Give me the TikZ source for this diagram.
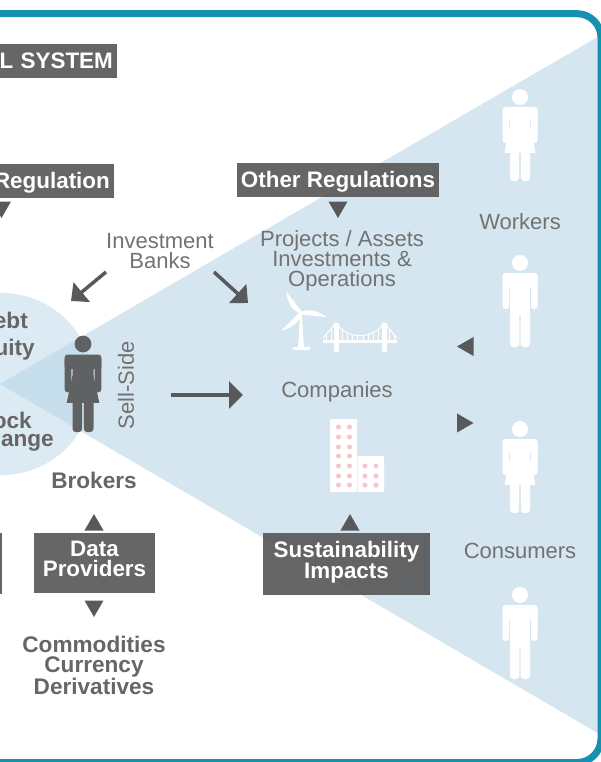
\documentclass[tikz,border=0pt]{standalone}
\usepackage{fontspec}
\setmainfont{Liberation Sans}
\usetikzlibrary{arrows.meta,shapes.geometric}
\definecolor{frameteal}{HTML}{1490B0}
\definecolor{conelight}{HTML}{D6E6F1}
\definecolor{circlelight}{HTML}{DCEAF3}
\definecolor{overlapblue}{HTML}{C7DFEC}
\definecolor{boxgrey}{HTML}{555555}
\definecolor{textgrey}{HTML}{666666}
\definecolor{thingrey}{HTML}{727272}
\definecolor{arrowgrey}{HTML}{58595B}
\definecolor{personcolor}{HTML}{5F6163}
\definecolor{windowpink}{HTML}{F5C6CB}
\newcommand{\boxlift}{\rule[-9pt]{0pt}{0pt}}
\tikzset{
  labelbox/.style={fill=boxgrey,fill opacity=.9,text opacity=1,text=white,inner xsep=4pt,inner ysep=0pt,
    font=\fontsize{22.4}{20}\selectfont\bfseries,align=center},
  thintext/.style={text=thingrey,inner sep=0pt,font=\fontsize{22}{20}\selectfont,align=center},
  boldtext/.style={text=textgrey,inner sep=0pt,font=\fontsize{22.6}{20}\selectfont\bfseries,align=center},
  marker/.style={regular polygon,regular polygon sides=3,minimum size=22pt,inner sep=0pt,fill=arrowgrey},
  bigarrow/.style={draw=arrowgrey,line width=4pt,-{Triangle[length=14pt,width=27pt]}},
  slantarrow/.style={draw=arrowgrey,line width=3.5pt,-{Triangle[length=14pt,width=25pt]}},
  pics/woman/.style={code={
    \fill[#1] (0,0) circle (8);
    \fill[#1,rounded corners=3pt] (-17.5,10) rectangle (17.5,24);
    \fill[#1,rounded corners=3pt] (-17.5,12) rectangle (-11,46);
    \fill[#1,rounded corners=3pt] (11,12) rectangle (17.5,46);
    \fill[#1] (-10,12) -- (10,12) -- (10,30) -- (15.5,56) -- (-15.5,56) -- (-10,30) -- cycle;
    \fill[#1,rounded corners=3.5pt] (-10,50) rectangle (-0.8,84);
    \fill[#1,rounded corners=3.5pt] (0.8,50) rectangle (10,84);
  }},
  pics/man/.style={code={
    \fill[#1] (0,0) circle (8);
    \fill[#1,rounded corners=3pt] (-17.5,10) rectangle (17.5,24);
    \fill[#1,rounded corners=3pt] (-17.5,12) rectangle (-11,46);
    \fill[#1,rounded corners=3pt] (11,12) rectangle (17.5,46);
    \fill[#1] (-10,12) rectangle (10,52);
    \fill[#1,rounded corners=3.5pt] (-10,45) rectangle (-0.6,84);
    \fill[#1,rounded corners=3.5pt] (0.6,45) rectangle (10,84);
  }}
}
\begin{document}
\begin{tikzpicture}[x=1pt,y=-1pt]
  \useasboundingbox (0,0) rectangle (600,762);
  % background cone and circle
  \fill[circlelight] (2,384) circle (91);
  \fill[conelight] (0,384) -- (601,35) -- (601,735) -- cycle;
  \begin{scope}
    \clip (2,384) circle (91);
    \fill[overlapblue] (0,384) -- (601,35) -- (601,735) -- cycle;
  \end{scope}
  \draw[frameteal,line width=7pt,rounded corners=24pt] (-30,13.7) rectangle (601,762.5);

  % boxes
  \node[labelbox,anchor=east,text width=140pt,align=right,minimum height=34pt,text depth=1pt] (system) at (117,61) {L SYSTEM};
  \node[labelbox,anchor=east,text width=140pt,align=right,minimum height=34pt,text depth=1pt] (regulation) at (114,181) {Regulation};
  \node[labelbox,minimum width=200pt,minimum height=34pt,text depth=1pt] (otherreg) at (338,180) {Other Regulations};
  \node[labelbox,minimum width=121pt,minimum height=60pt] (dataprov) at (94.5,563) {Data\\Providers\boxlift};
  \node[labelbox,minimum width=167pt,minimum height=62pt] (sustain) at (346.5,564) {Sustainability\\Impacts\boxlift};
  \node[labelbox,anchor=east,minimum width=30pt,minimum height=61pt] (leftbox) at (2,563.5) {};

  % markers
  \node[marker,shape border rotate=180] (regdown) at (1.5,207) {};
  \node[marker,shape border rotate=180] (otherdown) at (338,207) {};
  \node[marker] (dataup) at (94,525) {};
  \node[marker,shape border rotate=180] (datadown) at (94,606) {};
  \node[marker] (sustainup) at (350,525) {};
  \node[marker,shape border rotate=90] (fromworkers) at (468,346.5) {};
  \node[marker,shape border rotate=-90] (toconsumers) at (462.5,423) {};

  % labels
  \node[thintext] (banks) at (160,251) {Investment\\Banks};
  \node[thintext] (projects) at (342,261) {Projects / Assets\\Investments \&\\Operations};
  \node[thintext] (companies) at (337,391.5) {Companies};
  \node[thintext] (workers) at (520,221.5) {Workers};
  \node[thintext] (consumers) at (520,551) {Consumers};
  \node[thintext,rotate=90] (sellside) at (126,385) {Sell-Side};
  \node[boldtext,anchor=east] (debt) at (28,320.5) {ebt};
  \node[boldtext,anchor=east] (equity) at (35,349.5) {uity};
  \node[boldtext,anchor=east] (stock) at (32,420.5) {ock};
  \node[boldtext,anchor=east] (exchange) at (54,440.5) {hange};
  \node[boldtext] (brokers) at (94,480) {Brokers};
  \node[boldtext] (assets) at (94,665.5) {Commodities\\Currency\\Derivatives};

  % arrows
  \coordinate (bankleft) at (106,272);
  \coordinate (banktip) at (71,301);
  \coordinate (bankright) at (214,272);
  \coordinate (projtip) at (248,303);
  \coordinate (sellstart) at (171,395);
  \coordinate (selltip) at (243,395);
  \draw[slantarrow] (bankleft) -- (banktip);
  \draw[slantarrow] (bankright) -- (projtip);
  \draw[bigarrow] (sellstart) -- (selltip);

  % people
  \pic[scale=1.05] (broker) at (83,344) {woman=personcolor};
  \pic (workerone) at (520,97) {woman=white};
  \pic (workertwo) at (520,263) {man=white};
  \pic (consumerone) at (520,429) {woman=white};
  \pic (consumertwo) at (520,595) {man=white};

  % wind turbine
  \fill[white] (300.2,313) -- (301.8,313) -- (304,348) -- (298,348) -- cycle;
  \fill[white] (293,346.5) rectangle (310,350);
  \foreach \a/\l in {125/26,-9/26,222/27}{
    \fill[white,shift={(301,313)},rotate=\a] (0,-1) .. controls (8,-6.5) and (18,-4) .. (\l,0)
      .. controls (18,0.5) and (8,1) .. (0,1.5) -- cycle;
  }
  \fill[white] (301,313) circle (2);

  % bridge
  \fill[white] (323,340) rectangle (397,343);
  \fill[white] (333.5,323) rectangle (338.5,352);
  \fill[white] (381.5,323) rectangle (386.5,352);
  \draw[white,line width=1pt] (336,323) .. controls (348,340) and (372,340) .. (384,323);
  \draw[white,line width=1pt] (336,323) -- (323,338);
  \draw[white,line width=1pt] (384,323) -- (397,338);
  \foreach \x/\y in {326/335,331/329,342/330,347/333,352/335,357/336,363/336,368/335,373/333,378/330,389/329,394/335}{
    \draw[white,line width=.7pt] (\x,\y) -- (\x,341);
  }

  % buildings
  \fill[white,rounded corners=1pt] (330,419) rectangle (357,492);
  \fill[white,rounded corners=1pt] (357.6,456) rectangle (384,492);
  \foreach \y in {427,437,447,456,466,476,485}{
    \fill[windowpink] (338.5,\y) circle (2.5);
    \fill[windowpink] (349.5,\y) circle (2.5);
  }
  \foreach \y in {466,476,485}{
    \fill[windowpink] (365,\y) circle (2.5);
    \fill[windowpink] (376,\y) circle (2.5);
  }
\end{tikzpicture}
\end{document}
